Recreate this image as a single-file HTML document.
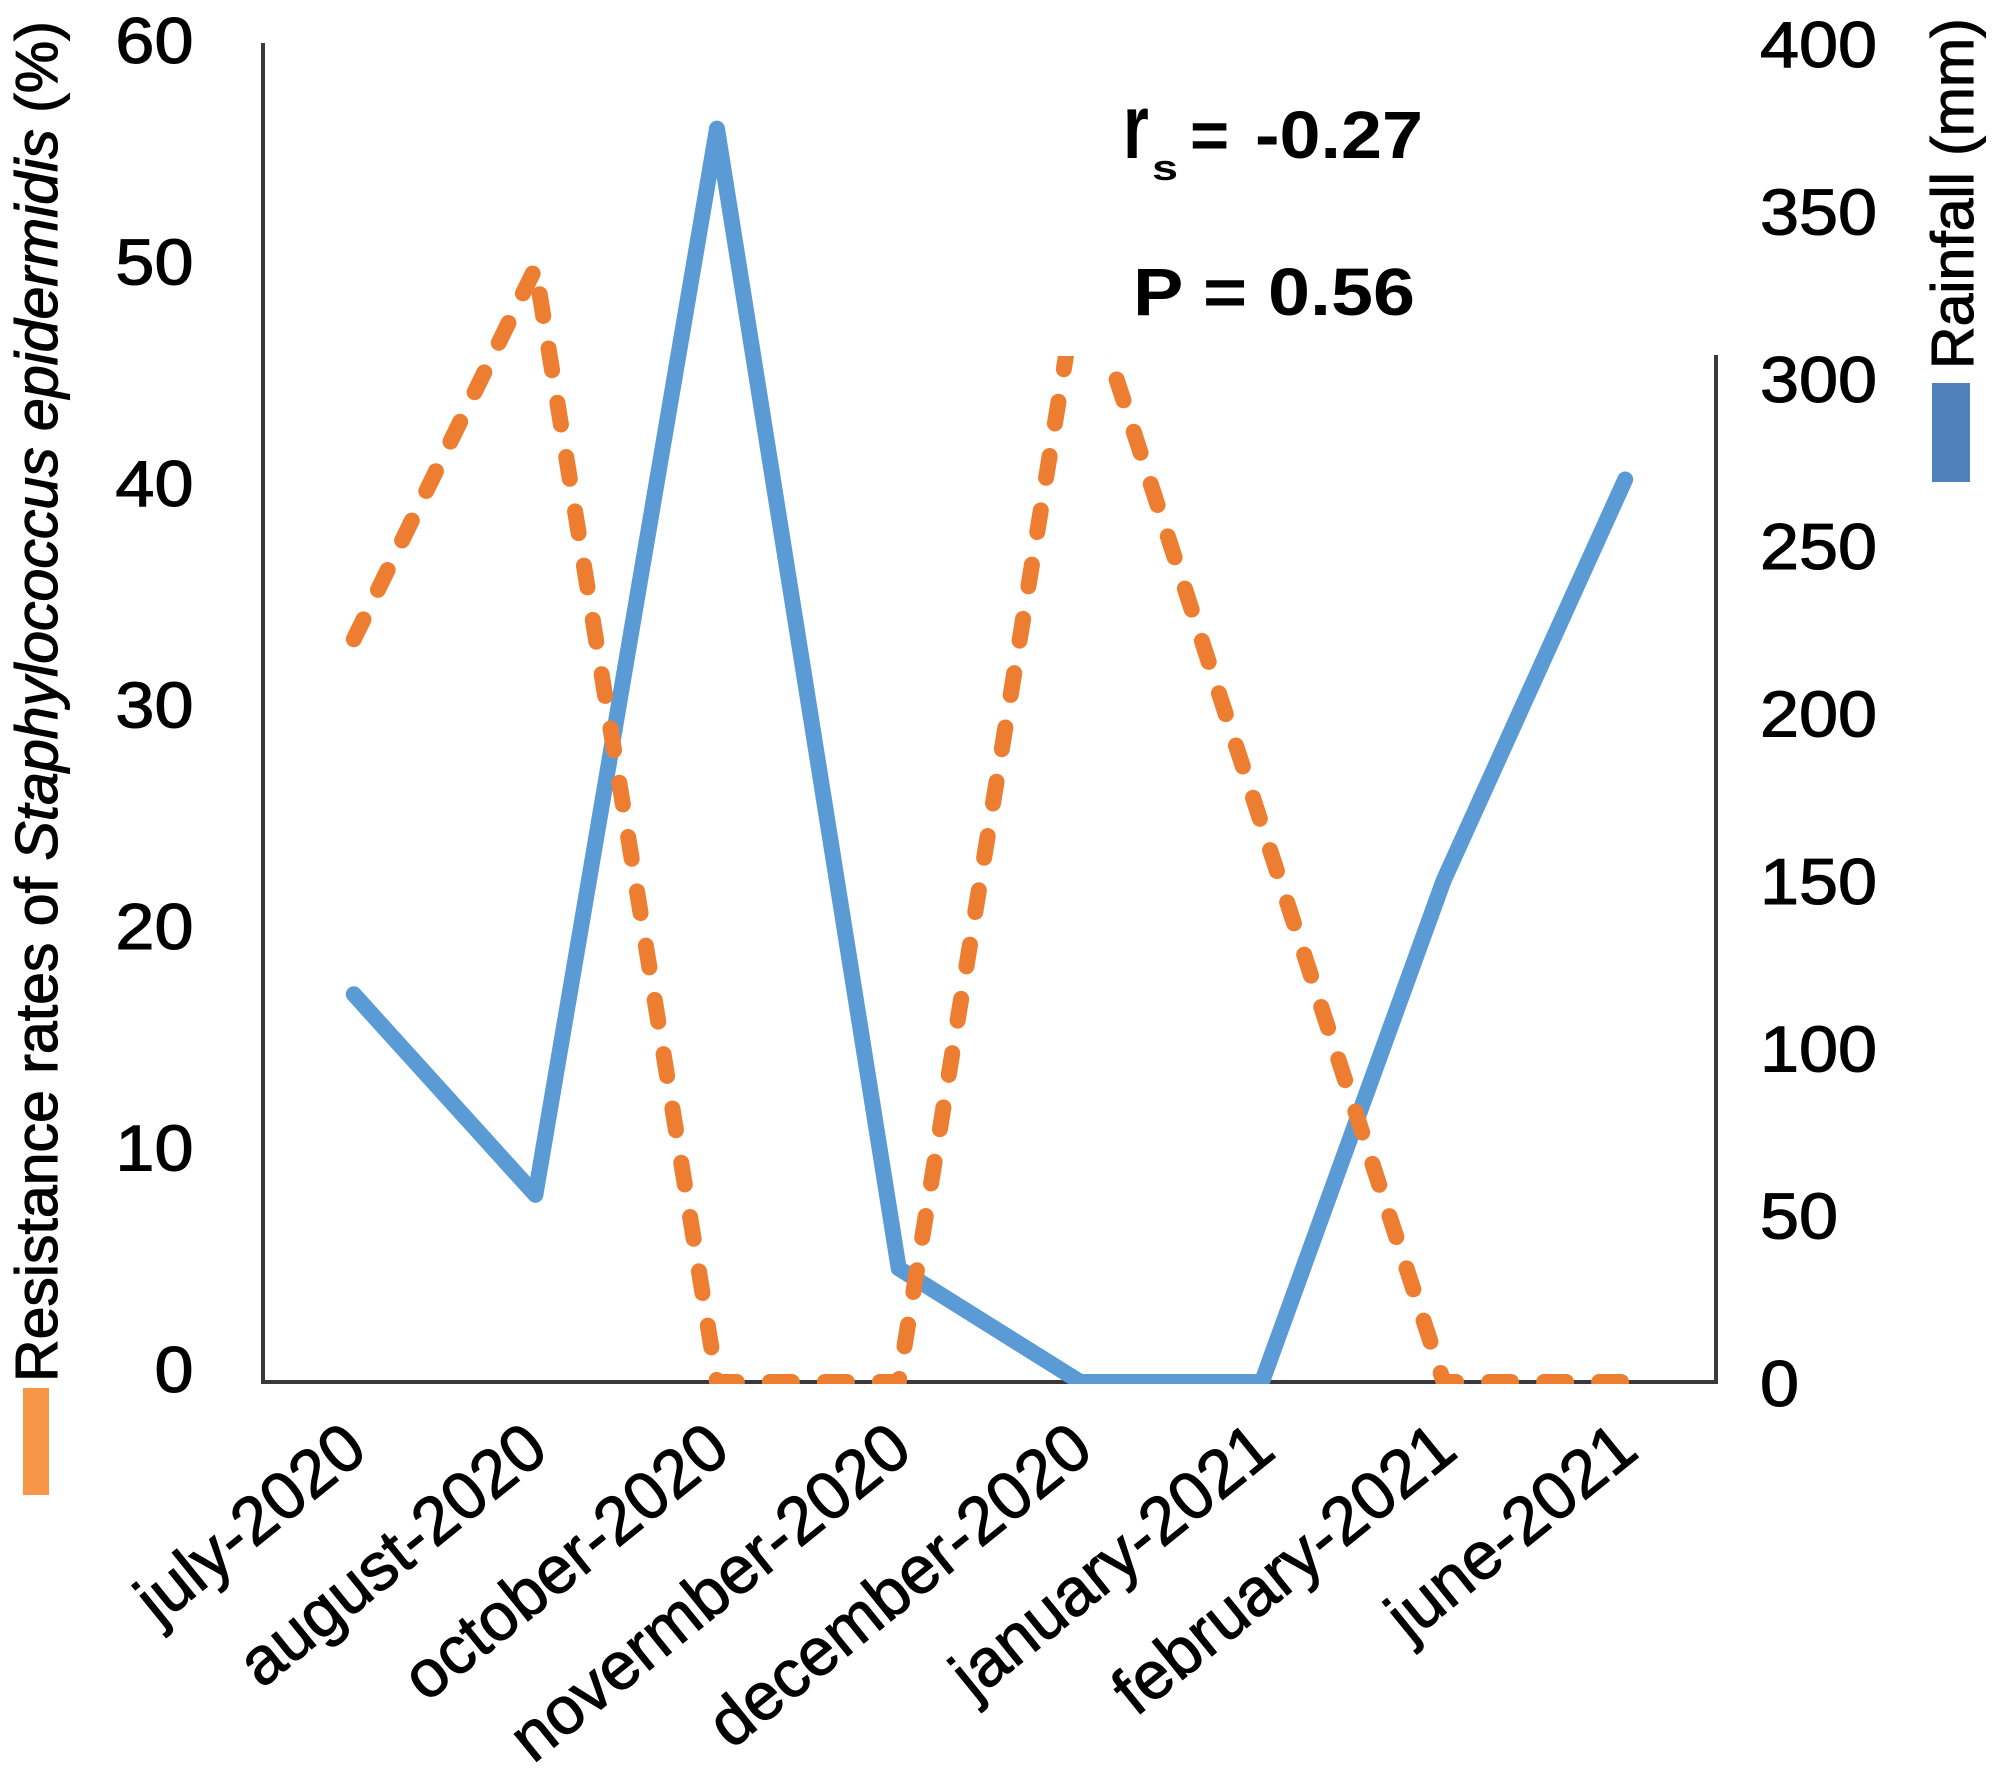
<!DOCTYPE html>
<html>
<head>
<meta charset="utf-8">
<style>
html,body{margin:0;padding:0;background:#fff;}
svg{display:block;}
text{font-family:"Liberation Sans",Arial,sans-serif;fill:#000;}
.reg{stroke:#000;stroke-width:1.1px;}
</style>
</head>
<body>
<svg width="2000" height="1769" viewBox="0 0 2000 1769" xmlns="http://www.w3.org/2000/svg">
<defs>
<clipPath id="plot"><rect x="263" y="0" width="1453" height="1384"/></clipPath>
</defs>
<rect x="0" y="0" width="2000" height="1769" fill="#fff"/>

<!-- axes -->
<line x1="263" y1="43" x2="263" y2="1384" stroke="#3a3a3a" stroke-width="4"/>
<line x1="261" y1="1382" x2="1718" y2="1382" stroke="#3a3a3a" stroke-width="4"/>
<line x1="1716" y1="355" x2="1716" y2="1384" stroke="#3a3a3a" stroke-width="4"/>

<g clip-path="url(#plot)">
<!-- blue rainfall line -->
<polyline fill="none" stroke="#5b9bd5" stroke-width="16" stroke-linejoin="round" stroke-linecap="round"
 points="353.8,994.3 535.4,1194.8 717,128.6 898.7,1268.4 1080.3,1382 1261.9,1382 1443.6,880.6 1625.2,479.5"/>
<!-- orange dashed resistance line -->
<polyline fill="none" stroke="#ed7d31" stroke-width="16" stroke-linejoin="round" stroke-linecap="round" stroke-dasharray="22 33"
 points="353.8,639.2 535.4,267.9 717,1382 898.7,1382 1080.3,267.9 1261.9,825 1443.6,1382 1625.2,1382"/>
</g>

<!-- white text box covering december peak -->
<rect x="1000" y="190" width="460" height="166" fill="#fff"/>

<!-- left tick labels -->
<g font-size="65" text-anchor="end" class="reg">
<text class="reg" transform="translate(193.5,63) scale(1.08,1)">60</text>
<text class="reg" transform="translate(193.5,284.5) scale(1.08,1)">50</text>
<text class="reg" transform="translate(193.5,506) scale(1.08,1)">40</text>
<text class="reg" transform="translate(193.5,727.5) scale(1.08,1)">30</text>
<text class="reg" transform="translate(193.5,949) scale(1.08,1)">20</text>
<text class="reg" transform="translate(193.5,1170.5) scale(1.08,1)">10</text>
<text class="reg" transform="translate(193.5,1392) scale(1.08,1)">0</text>
</g>

<!-- right tick labels -->
<g font-size="65" text-anchor="start">
<text class="reg" transform="translate(1760,67) scale(1.08,1)">400</text>
<text class="reg" transform="translate(1760,234.4) scale(1.08,1)">350</text>
<text class="reg" transform="translate(1760,401.8) scale(1.08,1)">300</text>
<text class="reg" transform="translate(1760,569.1) scale(1.08,1)">250</text>
<text class="reg" transform="translate(1760,736.5) scale(1.08,1)">200</text>
<text class="reg" transform="translate(1760,903.9) scale(1.08,1)">150</text>
<text class="reg" transform="translate(1760,1071.3) scale(1.08,1)">100</text>
<text class="reg" transform="translate(1760,1238.6) scale(1.08,1)">50</text>
<text class="reg" transform="translate(1760,1406) scale(1.08,1)">0</text>
</g>

<!-- x tick labels -->
<g font-size="67" text-anchor="end">
<text class="reg" transform="translate(370,1455) rotate(-39)">july-2020</text>
<text class="reg" transform="translate(551,1455) rotate(-39)">august-2020</text>
<text class="reg" transform="translate(733,1455) rotate(-39)">october-2020</text>
<text class="reg" transform="translate(915,1455) rotate(-39)">novermber-2020</text>
<text class="reg" transform="translate(1096,1455) rotate(-39)">december-2020</text>
<text class="reg" transform="translate(1278,1455) rotate(-39)">january-2021</text>
<text class="reg" transform="translate(1460,1455) rotate(-39)">february-2021</text>
<text class="reg" transform="translate(1641,1455) rotate(-39)">june-2021</text>
</g>

<!-- left axis title with legend swatch -->
<rect x="23" y="1388" width="26" height="107" fill="#f79646"/>
<text class="reg" transform="translate(57,1382) rotate(-90)" font-size="59">Resistance rates of <tspan font-style="italic">Staphylococcus epidermidis</tspan> (%)</text>

<!-- right axis title with legend swatch -->
<rect x="1932" y="383" width="38" height="99" fill="#4f81bd"/>
<text class="reg" transform="translate(1973,369) rotate(-90)" font-size="59">Rainfall (mm)</text>

<!-- statistics -->
<g font-weight="bold">
<text transform="translate(1123,158) scale(0.72,1)" font-size="92">r</text>
<text transform="translate(1152,180) scale(1.3,1)" font-size="36">s</text>
<text x="1190" y="158" font-size="67">=</text>
<text x="1255" y="158" font-size="67" textLength="168" lengthAdjust="spacingAndGlyphs">-0.27</text>
<text x="1133" y="315" font-size="67" textLength="282" lengthAdjust="spacingAndGlyphs">P = 0.56</text>
</g>
</svg>
</body>
</html>
